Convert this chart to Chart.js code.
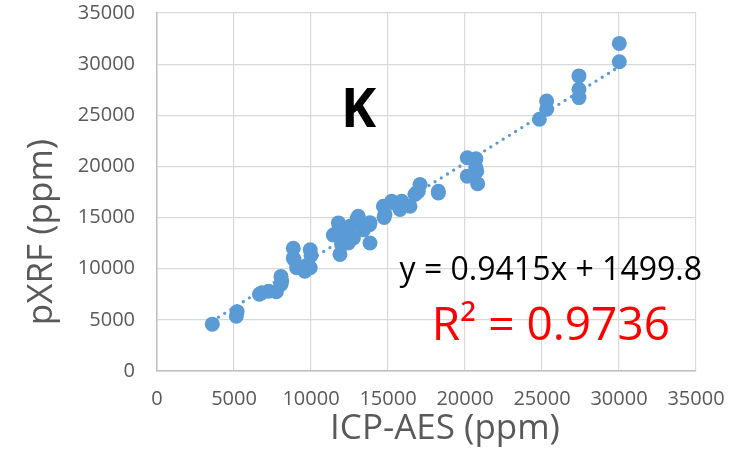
<!DOCTYPE html>
<html>
<head>
<meta charset="utf-8">
<script src="https://cdn.jsdelivr.net/npm/chart.js@4.4.1/dist/chart.umd.min.js"></script>
<style>
  html, body { margin: 0; padding: 0; background: #fff; }
  #wrap { width: 754px; height: 453px; }
</style>
</head>
<body>
<div id="wrap"><canvas id="kChart"></canvas></div>
<script>
// ICP-AES (x) vs pXRF (y), potassium, ppm
const icpValues = [
  3590, 5150, 5200, 6650, 6800, 7250, 7750,
  8050, 8050, 8100, 8850, 8850, 8900, 9070, 9600, 9700, 9950, 9950, 10000,
  11450, 11780, 11880, 11990, 11800, 12200, 12530, 12750, 12420,
  13070, 13000, 13400, 13830, 13800, 13830, 13600,
  14700, 14800, 14750, 15240, 15550, 15890, 15780, 16430,
  16750, 17080, 16970, 16860, 18270, 18270,
  20150, 20710, 20150, 20760, 20820, 20700,
  24830, 25300, 25300, 27400, 27400, 27400, 30020, 30020
];
const pxrfValues = [
  4580, 5350, 5800, 7500, 7650, 7800, 7750,
  9250, 8450, 8800, 12000, 11050, 10900, 10100, 9750, 10300, 11850, 10100, 11300,
  13300, 14480, 11400, 12350, 13800, 13000, 14150, 13000, 12520,
  15130, 14900, 13800, 14500, 14300, 12520, 14200,
  16110, 15300, 15000, 16600, 16400, 16600, 15800, 16100,
  17250, 18240, 17580, 17420, 17580, 17400,
  20850, 20750, 19050, 19540, 18300, 19900,
  24610, 26400, 25590, 28850, 27550, 26730, 32030, 30230
];
const axisTicks = [0, 5000, 10000, 15000, 20000, 25000, 30000, 35000];

// linear trendline as printed on the chart
const slope = 0.9415;
const intercept = 1499.8;
const rSquared = 0.9736;

const points = icpValues.map((x, i) => ({ x: x, y: pxrfValues[i] }));
const xLo = Math.min(...icpValues);
const xHi = Math.max(...icpValues);
const trend = [
  { x: xLo, y: slope * xLo + intercept },
  { x: xHi, y: slope * xHi + intercept }
];

const FONT = "'Open Sans', sans-serif";

// labels drawn straight onto the canvas
const labelsPlugin = {
  id: 'labels',
  afterDraw(chart) {
    const ctx = chart.ctx;
    ctx.save();
    ctx.textBaseline = 'alphabetic';

    ctx.fillStyle = '#000';
    ctx.textAlign = 'left';
    ctx.font = 'bold 53px ' + FONT;
    ctx.fillText('K', 341, 127);

    ctx.textAlign = 'right';
    ctx.font = '32px ' + FONT;
    ctx.fillText('y = ' + slope + 'x + ' + intercept, 702, 280);

    ctx.fillStyle = '#ff0000';
    ctx.font = '46px ' + FONT;
    ctx.fillText('R\u00b2 = ' + rSquared, 670, 340);

    // axis titles
    ctx.fillStyle = '#595959';
    ctx.font = '35px ' + FONT;
    ctx.textAlign = 'center';
    ctx.fillText('ICP-AES (ppm)', 445, 439);

    ctx.translate(42, 232);
    ctx.rotate(-Math.PI / 2);
    ctx.textBaseline = 'middle';
    ctx.fillText('pXRF (ppm)', 0, 0);
    ctx.restore();
  }
};

const tickFont = { family: FONT, size: 20 };
const plainNumber = (v) => String(v);

new Chart(document.getElementById('kChart'), {
  type: 'scatter',
  data: {
    datasets: [
      {
        type: 'line',
        data: trend,
        borderColor: '#5b9bd5',
        borderWidth: 3.3,
        borderDash: [0, 7.3],
        borderCapStyle: 'round',
        pointRadius: 0,
        fill: false
      },
      {
        data: points,
        backgroundColor: '#5b9bd5',
        borderColor: '#5b9bd5',
        pointRadius: 7.5,
        pointBorderWidth: 0
      }
    ]
  },
  options: {
    responsive: true,
    maintainAspectRatio: false,
    animation: false,
    layout: { padding: { top: 13, right: 58, left: 0, bottom: 0 } },
    plugins: { legend: { display: false }, tooltip: { enabled: false } },
    scales: {
      x: {
        type: 'linear',
        min: 0,
        max: 35000,
        afterBuildTicks: (axis) => { axis.ticks = axisTicks.map(v => ({ value: v })); },
        afterFit: (axis) => { axis.height = 82; },
        grid: { color: '#d9d9d9', lineWidth: 1.2, drawTicks: false },
        border: { color: '#bfbfbf', width: 1.5 },
        ticks: { font: tickFont, color: '#595959', padding: 16, maxRotation: 0, callback: plainNumber }
      },
      y: {
        type: 'linear',
        min: 0,
        max: 35000,
        afterBuildTicks: (axis) => { axis.ticks = axisTicks.map(v => ({ value: v })); },
        afterFit: (axis) => {
          axis.width = 157;
          // tick padding only pushes labels sideways here
          axis.paddingTop = 0;
          axis.paddingBottom = 0;
        },
        grid: { color: '#d9d9d9', lineWidth: 1.2, drawTicks: false },
        border: { color: '#bfbfbf', width: 1.5 },
        ticks: { font: tickFont, color: '#595959', padding: 22, callback: plainNumber }
      }
    }
  },
  plugins: [labelsPlugin]
});
</script>
</body>
</html>
